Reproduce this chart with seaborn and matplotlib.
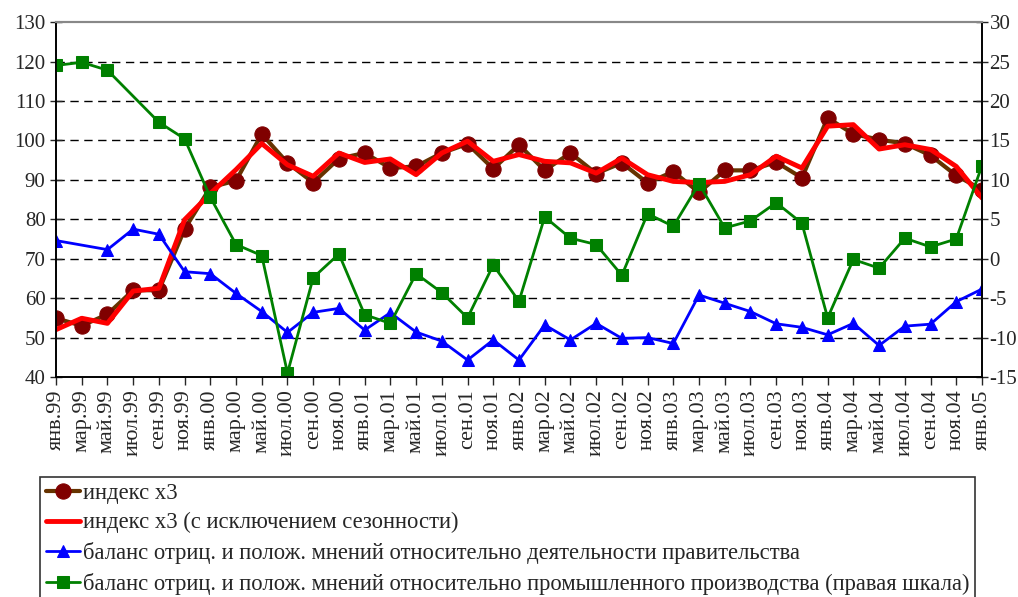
import numpy as np
import pandas as pd
import seaborn as sns
import matplotlib.pyplot as plt

# подписи оси X (каждые два месяца)
months = ['янв', 'мар', 'май', 'июл', 'сен', 'ноя']
years = ['99', '00', '01', '02', '03', '04']
labels = [f'{m}.{y}' for y in years for m in months] + ['янв.05']

index_x3 = [54.9, 53.0, 55.9, 62.0, 62.0, 77.5, 88.1, 89.8, 101.6, 94.3, 89.3, 95.4, 96.8,
            93.0, 93.4, 96.8, 99.1, 92.8, 98.9, 92.4, 96.8, 91.6, 94.3, 89.2, 92.1,
            86.8, 92.4, 92.4, 94.5, 90.5, 105.7, 101.6, 100.2, 99.2, 96.2, 91.1, 87.5]
index_x3_sa = [52.0, 54.9, 53.6, 61.8, 62.5, 79.9, 86.5, 92.6, 99.2, 93.8, 90.9, 96.8, 94.4,
               95.3, 91.3, 96.8, 99.8, 94.7, 96.4, 94.7, 94.3, 91.7, 95.5, 91.3, 89.6,
               89.3, 89.6, 91.3, 96.0, 93.0, 103.6, 104.0, 97.8, 98.9, 97.7, 93.4, 85.4]
gov_balance = [74.6, np.nan, 72.3, 77.5, 76.2, 66.7, 66.2, 61.2, 56.6, 51.3, 56.4, 57.4, 51.9,
               56.3, 51.4, 49.1, 44.3, 49.4, 44.3, 53.2, 49.4, 53.6, 49.8, 50.0, 48.5,
               60.8, 58.7, 56.6, 53.5, 52.6, 50.7, 53.6, 48.0, 52.9, 53.4, 59.1, 62.3]
ind_balance = [24.5, 24.9, 23.9, np.nan, 17.3, 15.2, 7.8, 1.8, 0.4, -14.5, -2.4, 0.6, -7.1,
               -8.2, -1.9, -4.3, -7.5, -0.8, -5.4, 5.3, 2.6, 1.8, -2.1, 5.7, 4.1,
               9.5, 3.9, 4.8, 7.1, 4.5, -7.5, -0.1, -1.2, 2.6, 1.5, 2.5, 11.8]

df = pd.DataFrame({'t': np.arange(len(labels)), 'x3': index_x3, 'x3sa': index_x3_sa,
                   'gov': gov_balance, 'ind': ind_balance})

sns.set_style('ticks')
plt.rcParams['font.family'] = ['Liberation Serif', 'DejaVu Serif']
plt.rcParams['font.size'] = 16
plt.rcParams['axes.unicode_minus'] = False

fig = plt.figure(figsize=(10.18, 5.97), dpi=100)
ax = fig.add_axes([0.055, 0.3685, 0.9096, 0.5945])
ax2 = ax.twinx()

sns.lineplot(data=df, x='t', y='x3', ax=ax, color='#663300', lw=3, marker='o', markersize=11,
             markerfacecolor='#800000', markeredgecolor='#800000', label='индекс x3')
sns.lineplot(data=df, x='t', y='x3sa', ax=ax, color='#ff0000', lw=3.5,
             label='индекс x3 (с исключением сезонности)')
sns.lineplot(data=df, x='t', y='gov', ax=ax, color='#0000ff', lw=2, marker='^', markersize=9,
             markeredgecolor='#0000ff',
             label='баланс отриц. и полож. мнений относительно деятельности правительства')
sns.lineplot(data=df, x='t', y='ind', ax=ax2, color='#008000', lw=2, marker='s', markersize=8,
             markeredgecolor='#008000',
             label='баланс отриц. и полож. мнений относительно промышленного производства (правая шкала)')

ax.set_xlim(0, len(labels) - 1)
ax.set_ylim(40, 130)
ax.set_yticks(range(40, 131, 10))
ax2.set_ylim(-15, 30)
ax2.set_yticks(range(-15, 31, 5))
ax.set_xticks(df['t'])
ax.set_xticklabels(labels, rotation=90)
ax.set_xlabel('')
ax.set_ylabel('')
ax2.set_ylabel('')

for y in range(50, 130, 10):
    ax.axhline(y, color='black', lw=1, ls=(0, (6, 4)), zorder=0)

for a in (ax, ax2):
    for s in a.spines.values():
        s.set_color('black')
        s.set_linewidth(1.2)
    a.spines['top'].set_color('#888888')
    a.spines['top'].set_linewidth(1.5)
ax.tick_params(axis='x', direction='out', length=6, width=1, labelsize=16, pad=3)
ax.tick_params(axis='y', direction='inout', length=9, width=1, labelsize=15, pad=3)
ax2.tick_params(axis='y', direction='inout', length=9, width=1, labelsize=15, pad=1)

handles, lbls = [], []
for a in (ax, ax2):
    h, l = a.get_legend_handles_labels()
    handles += h
    lbls += l
    a.get_legend().remove()

leg = fig.legend(handles, lbls, loc='upper left', bbox_to_anchor=(40 / 1018, 1 - 477 / 597),
                 fontsize=16.3, frameon=True, fancybox=False, edgecolor='black',
                 handlelength=1.5, handletextpad=0.15, labelspacing=0.38, borderpad=0.25,
                 borderaxespad=0)
leg.get_frame().set_linewidth(1.2)

fig.savefig('out.png', dpi=100)
